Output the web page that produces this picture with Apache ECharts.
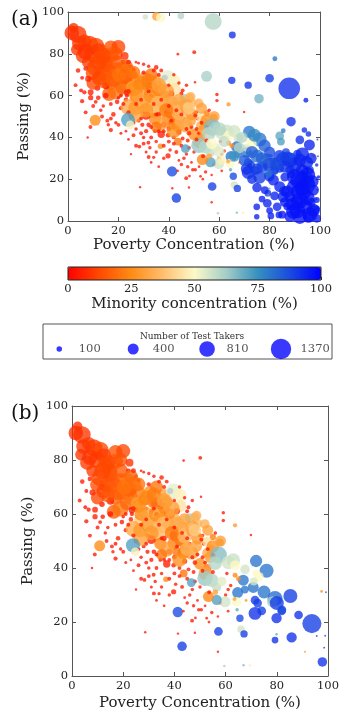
<!DOCTYPE html>
<html>
<head>
<meta charset="utf-8">
<script src="https://cdn.jsdelivr.net/npm/echarts@6/dist/echarts.min.js"></script>
<style>
  html, body { margin: 0; padding: 0; background: #fff; }
  #chart { width: 346px; height: 719px; }
</style>
</head>
<body>
<div id="chart"></div>
<script>
// each school: [poverty %, passing %, minority %, test takers]
// schools shown in both panels
var schoolsCommon = [
  [2.2,92.5,8,300],[3.9,89.3,9,1000],[1.5,90,8,700],[3.5,82,9,450],[6,79,10,700],[8.5,84.5,10,1000],
  [11,83.5,12,1000],[9.8,80,11,900],[12.4,81.5,10,750],[17,83,14,650],[20,83.3,12,650],
  [17,79.5,16,750],[15,76,14,650],[8,76,10,500],[11,73.5,12,1000],[13.7,70.8,14,800],
  [9.8,70.8,13,650],[12.4,68.4,11,700],[15,74.6,13,650],[18.9,72.2,18,800],[21.5,72,22,1000],
  [24,70.8,24,850],[25.4,68,22,800],[20,67.8,26,650],[17,66,18,650],[16.3,60.8,16,650],
  [18.9,62,20,850],[21.5,64,18,650],[15,64.8,4,180],[11.7,63.6,4,100],[9,61.6,5,110],
  [6.5,61.6,4,60],[5.2,62.5,3,50],[5.6,57.3,4,60],[5.6,68.5,3,50],[15,60,4,100],
  [23,66,20,700],[19,76,15,700],[22,76,5,70],[25,74,6,50],[27,76,4,25],
  [28,75.5,3,25],[26,72.5,4,50],[13,78,14,800],[7,73,5,70],[10,66,12,600],
  [14,67,14,700],[22.5,69,16,700],[19.5,57,4,70],[21,54,3,60],[23,58,5,70],
  [12,59,4,70],[18,51,5,70],[17,49,3,50],
  [4.5,85,9,700],[6.5,86,10,600],[7,81,9,800],[14,79,12,800],[16,71,14,900],[12,76,12,900],
  [18,68,16,800],[20.5,70,20,800],[23,74,18,600],[19,80,14,600],[22.5,79,8,200],[24,76,6,80],
  [26,71,20,600],[8,68,6,120],[4,72,5,70],[3,65,4,50],[11,57,4,50],[14,55,3,40],[7,52,4,50],[9,59,5,90],
  [25.4,64,30,500],[25,61.5,4,70],[23.4,61.5,5,140],[23.4,60,4,60],[26.7,58,40,500],
  [24,54.5,32,850],[26.7,54,28,650],[29.3,55.7,26,500],[31.9,58,4,50],[33,59.8,4,80],
  [31,61,4,60],[29,62,4,50],[34.5,62.5,5,100],[37,64.6,26,500],[35.8,67,30,500],
  [38.4,68.5,90,120],[39.7,68.4,53,800],[42.3,67,48,500],[42.3,63,45,500],[46,58.5,62,300],
  [48,58.8,34,300],[49,56.5,36,300],[45,61,3,50],[45.5,62.5,4,50],[33,52.5,34,650],
  [36.5,54,40,700],[40.4,52,6,450],[42.3,50.5,20,500],[39.7,49,22,500],[46,49,4,50],
  [46.7,45.6,30,600],[43.6,45.6,24,500],[41,46,20,300],[34.5,49,24,500],[31,50.5,5,250],
  [29.5,52,4,60],[28,48,4,50],[29.5,46,4,60],[32,46,4,70],[34.5,43,4,50],
  [37,41.5,5,180],[39.7,41,4,70],[42,40,4,50],[43.6,38,20,200],[45.5,39.5,4,50],
  [47.5,38.5,4,50],[50,41.5,26,450],[52.7,45.6,32,300],[54,47,36,300],[51.4,49,4,50],
  [50,52,4,50],[51,52,4,40],[55,51.5,22,130],[57.8,49.5,22,200],[48.7,59.4,34,300],
  [51.9,56.3,34,300],[52.6,49.8,44,300],[28,65,22,450],[30.5,68,26,600],[33,70,20,550],
  [35,73.5,5,70],[34,72,4,50],[37,72,4,50],[30,71,4,60],[31.5,63.9,20,300],
  [27,60,24,600],[30,57,30,500],[35,58,30,650],[38,56,28,500],[40,58,34,500],
  [43,55,30,450],[46,53,8,130],[44,58,30,500],[38,60,24,450],[36,62,20,400],
  [33,64,18,450],[41,61,5,120],[36,51,4,90],[38,46,5,120],[40,44,4,70],
  [44,42.5,5,90],[33,40,4,50],[35,38,4,40],[31,43,4,60],[27,44,3,40],
  [25,50,4,70],[26,47,3,50],[23,43,3,25],[20,46,4,50],[16,46,4,40],
  [30,37,4,50],[27,36,4,50],[34,30.5,3,35],[36.7,35.8,24,100],[39.7,31.2,5,90],
  [38,36,4,50],[40.5,34,4,40],[42,37,4,50],[45,36,4,50],[47,32,4,40],
  [48,42,5,70],[49,45,4,50],[52,42,4,50],[53,40,20,200],[54,44,28,450],
  [48.5,48,30,450],[44,48.5,22,400],
  [28.5,60,30,800],[31,56,34,900],[33,60,26,800],[36,56,36,900],[39,62,30,800],[41,56,32,850],
  [44,52,36,800],[47,55,30,650],[26,63,26,650],[29,66,24,700],[32,67,22,700],[36,65,30,700],
  [39,53,22,650],[45,47,34,650],[49,51,28,500],[37,47,30,750],[35,45,20,400],[42,43,26,650],
  [31,53,28,700],[27,51,30,750],[48,54,40,500],[53,54,30,400],[55,48,26,500],[58,50,30,400],[52,38,30,550],
  [20,59,3,40],[22,56,4,50],[24,52,4,60],[19,47,3,40],[21,42,3,30],[24,39,3,25],[26,41,4,50],
  [29,42,4,50],[30,40,3,40],[33,45,4,50],[36,43,4,50],[31,33,3,30],[33,28,3,25],[36,26,3,25],
  [38,30,4,40],[40,38,4,50],[43,33,4,50],[44,29,3,25],[46,30,4,40],[48,35,4,50],[49,28,3,25],
  [50,33,4,40],[51,44,4,50],[53,47,4,50],[55,45,4,50],[56,53,3,40],[45,51,4,50],[43,53,4,50],
  [40,55,4,50],[37,58,4,50],[34,56,4,50],[32,62,4,50],[29,58,4,50],[27,56,4,50],[24,62,5,70],
  [21,60,4,50],[17,56,4,50],[13,53,3,40],[10,55,4,50],[32,74,4,40],[36,70,4,50],[40,65,4,40],
  [42,70,4,40],[47,65,4,40],[44,66,4,40],[30,75,4,40],[29,49,4,50],[35,51,4,50],[38,43,4,50],
  [41,48,4,50],[25,32,3,20],[48,16,3,20],[52,26,3,25],[58,27,4,40],[60,30,4,40],[47,44,4,50],
  [23.8,48.4,72,650],[24.7,46,48,250],[10.8,48.2,25,400],[8.9,45,4,50],[7.8,40,3,20],
  [17,43.5,4,60],[15.6,48,4,50],[13.5,50,4,50],[28.6,16.2,3,20],[28.3,35.6,4,50],
  [31.9,37.5,4,50],[32.5,35,4,40],[32,30.6,4,50],[35,33,4,40],[41.3,23.7,88,350],
  [43,11,90,300],[41.4,15.7,4,20],[43.5,24,4,25],[46.9,20.5,4,50],[48.2,21.5,3,25],
  [46.6,34.6,72,250],[45,27,4,40],[47.5,26,4,40],[49.5,24.5,4,40],[43.6,79.8,4,25],
  [50.1,80.8,4,50],[50.4,66.4,3,20],[59.1,60.5,4,40],[59.1,57.6,4,40],[63.7,55.8,28,60],
  [69.9,52.2,4,20],[50.5,50.5,4,50],[57.2,44.8,66,950],[55.9,41.8,60,600],[61.1,42,56,600],
  [63,43,57,600],[63.7,41,50,350],[67.6,39.5,56,300],[71.9,42.6,80,500],[76,39,80,650],
  [73,36.8,50,300],[66.9,35.5,80,400],[70.8,32.8,80,400],[75,31.1,80,550],[79.3,28.7,82,750],
  [78.3,27.5,62,400],[85.3,29.6,90,650],[64.7,30.9,80,400],[64.3,27.5,50,300],[63.5,28.5,30,50],
  [59.8,27.5,56,400],[56.5,28.2,72,350],[53.3,29.4,24,400],[52,36.2,64,800],[54.6,35.5,60,600],
  [56.5,33,58,300],[58.5,35,54,300],[63.7,37.3,24,80],[68,28,26,25],[71.5,28.1,90,250],
  [71.5,23.2,92,550],[74.1,24.1,90,250],[81.9,24.1,88,250],[79.9,21.4,92,350],[88.5,22.6,92,250],
  [93.7,19.4,90,1200],[85.8,14.3,92,350],[79.3,13.3,92,150],[79.9,15.5,70,20],[65.6,21.4,88,180],
  [66,17.3,56,180],[67.2,15.6,90,180],[57.2,16.5,90,250],[57,9,4,20],[59.5,3.7,62,20],
  [67,4,66,20],[69.5,4,48,20],[91,9,26,12],[97.5,31.3,26,25],[99.2,31,85,12],
  [95.6,14.8,88,12],[98.9,14.9,88,12],[98.5,10.5,90,12],[97.8,5.2,92,300],[54.6,23.5,4,40],
  [52.6,21.4,4,25],[53.5,20,4,25],[50.5,24.5,4,40],[53.6,31,4,50],[55,38.5,4,60],
  [51,39,4,50],[60.5,38,4,40],[61,32,4,40],[62,33.5,4,40],[56,31,30,100],
  [65,36,26,80],[80,27,90,650],[82,24.5,88,250],[72.5,27,90,250],[71,35,55,200],
  [72,38,50,200],[67.5,32,80,200],[61,24,4,25],[57,22,4,20],[64.5,24.5,70,40]
];

// schools only in panel (a)
var schoolsOnlyA = [
  [30.7,97.6,56,100],[35.1,97.9,30,250],[36.8,97.3,50,300],[44.8,98.2,60,150],[57.6,95.4,60,950],
  [65.2,89,92,160],[82.1,77.6,80,80],[55,69.2,62,400],[65,67.3,92,180],[71.5,65,92,180],
  [80,68.3,90,250],[87.8,63.5,92,1550],[94.4,57.8,94,80],[75.8,58.5,68,300],[88.5,47.5,92,300],
  [93.8,43.5,92,100],[95.4,41.6,92,100],[95.8,36.4,94,400],[99,39,90,12],[84,40.7,70,250],
  [85.4,43.2,78,80],[84.5,38,72,200],[88.1,29.2,92,750],[92,29.2,94,550],[94.7,28,94,550],
  [96.5,30,94,400],[98.7,26.8,92,40],[96,24.4,90,200],[92,19.6,97,1200],[94.7,17.2,97,1000],
  [89.4,16.4,96,550],[93.4,13.2,97,700],[97.4,14.8,96,400],[88.1,11.6,96,400],[90.7,8.4,97,550],
  [94,6.8,97,700],[97.4,5.2,97,550],[89.4,4.5,97,700],[92,2.1,97,700],[95.4,1.8,97,400],
  [98.7,1.3,96,250],[88.1,2.1,96,400],[98.7,10,95,120],[99.4,21,94,40],[83,6.8,94,250],
  [83.7,2.9,94,150],[80.5,2.4,94,150],[79.1,8.5,94,250],[77,10.5,94,150],[74.9,6.8,94,150],
  [74.9,2,94,100],[81.5,19.6,94,400],[84,16.4,94,400],[85.4,11.6,94,400],[86,21,94,250],
  [79.5,22.8,82,250],[76,21,90,550],[78.1,14.8,94,200],[88.1,24.4,92,300],[84,25.2,90,250],
  [82,28,86,300],[92,38.8,92,250],[91.4,24.4,70,150],[90.8,10.1,4,12],[79.5,12.5,70,12],
  [91,32,90,250],[86.5,33,88,200],[96.5,9,96,250],[91,14,97,600],[93,24,96,550],
  [87,7,96,200],[99,6,95,80],[85,3,96,200],
  [90,27,94,700],[93,32,94,600],[87,30,90,600],[95,22,97,800],[90,21,96,800],[92,10,97,900],
  [95,11,97,700],[89,8,97,600],[96,3,97,700],[91,5,97,800],[93,16,97,700],[87,14,96,500],
  [97,19,96,500],[86,26,92,500],[84,31,90,500],[80,33,88,400],[77,26,90,400],[73,20,92,300],
  [71,25,92,500],[75,16,94,300],[82,12,94,250],[80,5,95,150],[86,9,96,300],
  [60,44,60,600],[66,43,56,500],[69,40,60,400],[74,41,76,550],[78,36,84,500],[68,35,60,400],
  [62,38,58,400],[73,33,84,500],[77,30,84,500],[70,29,86,400],[66,31,74,400],[83,27,88,450],
  [60,33,54,400],[57,37,50,400],[61,29,48,250],[75,25,90,400]
];

var legendTakers = [100, 400, 810, 1370];
var colorTicks = [0, 25, 50, 75, 100];
var minorityColors = ['#ff0000', '#ff4a00', '#ff8c14', '#ffbe6e', '#fcfac8',
                      '#a4cdc6', '#3590c0', '#1a4ce0', '#0000ff'];

var serif = 'DejaVu Serif';
var axisColor = '#555';

function markerSize(n) { return 0.55 * Math.sqrt(n); }

function sideAxis(gridIndex, pos, showLabels, name, gap) {
  var ax = {
    type: 'value', gridIndex: gridIndex, position: pos,
    min: 0, max: 100, interval: 20,
    axisLine: { show: true, onZero: false, lineStyle: { color: axisColor, width: 1 } },
    axisTick: { show: true, inside: true, length: 4, lineStyle: { color: axisColor } },
    axisLabel: { show: showLabels, color: '#222', fontFamily: serif, fontSize: 11.5, margin: 4 },
    splitLine: { show: false }
  };
  if (name) {
    ax.name = name;
    ax.nameLocation = 'middle';
    ax.nameGap = gap;
    ax.nameTextStyle = { color: '#222', fontFamily: serif, fontSize: 15 };
  }
  return ax;
}

var chart = echarts.init(document.getElementById('chart'), null, { renderer: 'canvas' });

var option = {
  animation: false,
  backgroundColor: '#fff',
  title: [
    { text: '(a)', left: 6, top: 5, textStyle: { fontFamily: serif, fontSize: 20, fontWeight: 'normal', color: '#111' } },
    { text: '(b)', left: 6, top: 399, textStyle: { fontFamily: serif, fontSize: 20, fontWeight: 'normal', color: '#111' } },
    { text: 'Number of Test Takers', left: 187, top: 327, textAlign: 'center',
      textStyle: { fontFamily: serif, fontSize: 9, fontWeight: 'normal', color: '#333' } }
  ],
  grid: [
    { left: 68, top: 12, width: 252, height: 209 },
    { left: 72, top: 406, width: 256, height: 270 },
    { left: 68, top: 267, width: 253, height: 13, show: true, borderColor: '#222', borderWidth: 1, z: 10 },
    { left: 43, top: 324, width: 289, height: 35, show: true, borderColor: '#555', borderWidth: 1 }
  ],
  xAxis: [
    sideAxis(0, 'bottom', true, 'Poverty Concentration (%)', 17),
    sideAxis(0, 'top', false),
    sideAxis(1, 'bottom', true, 'Poverty Concentration (%)', 20),
    sideAxis(1, 'top', false),
    {
      type: 'value', gridIndex: 2, min: 0, max: 100, interval: 25,
      axisLine: { show: false },
      axisTick: { show: true, inside: true, length: 3, lineStyle: { color: '#333' } },
      axisLabel: { color: '#222', fontFamily: serif, fontSize: 11.5, margin: 3,
        formatter: function (v) { return colorTicks.indexOf(v) >= 0 ? String(v) : ''; } },
      splitLine: { show: false },
      name: 'Minority concentration (%)', nameLocation: 'middle', nameGap: 17,
      nameTextStyle: { color: '#222', fontFamily: serif, fontSize: 15 }
    },
    { type: 'value', gridIndex: 3, min: -0.22, max: 3.69, show: false }
  ],
  yAxis: [
    sideAxis(0, 'left', true, 'Passing (%)', 30),
    sideAxis(0, 'right', false),
    sideAxis(1, 'left', true, 'Passing (%)', 31),
    sideAxis(1, 'right', false),
    { type: 'value', gridIndex: 2, min: 0, max: 1, show: false },
    { type: 'value', gridIndex: 3, min: -1, max: 2.5, show: false }
  ],
  visualMap: {
    type: 'continuous', min: 0, max: 100, dimension: 2, seriesIndex: [0, 1],
    orient: 'horizontal', left: 68, top: 267, itemWidth: 13, itemHeight: 253,
    padding: 0, calculable: false, hoverLink: false,
    inRange: { color: minorityColors }
  },
  series: [
    {
      type: 'scatter', xAxisIndex: 0, yAxisIndex: 0,
      data: schoolsCommon.concat(schoolsOnlyA),
      symbolSize: function (d) { return markerSize(d[3]); },
      itemStyle: { opacity: 0.78 }
    },
    {
      type: 'scatter', xAxisIndex: 2, yAxisIndex: 2,
      data: schoolsCommon,
      symbolSize: function (d) { return markerSize(d[3]); },
      itemStyle: { opacity: 0.78 }
    },
    {
      type: 'scatter', xAxisIndex: 5, yAxisIndex: 5,
      data: legendTakers.map(function (n, i) { return [i, 0, n]; }),
      symbolSize: function (d) { return markerSize(d[2]); },
      itemStyle: { color: '#0000ff', opacity: 0.78 },
      label: {
        show: true, position: 'inside', align: 'left', offset: [19.5, 0],
        color: '#222', fontFamily: serif, fontSize: 11.5,
        formatter: function (p) { return String(p.data[2]); }
      }
    }
  ]
};

chart.setOption(option);
</script>
</body>
</html>
